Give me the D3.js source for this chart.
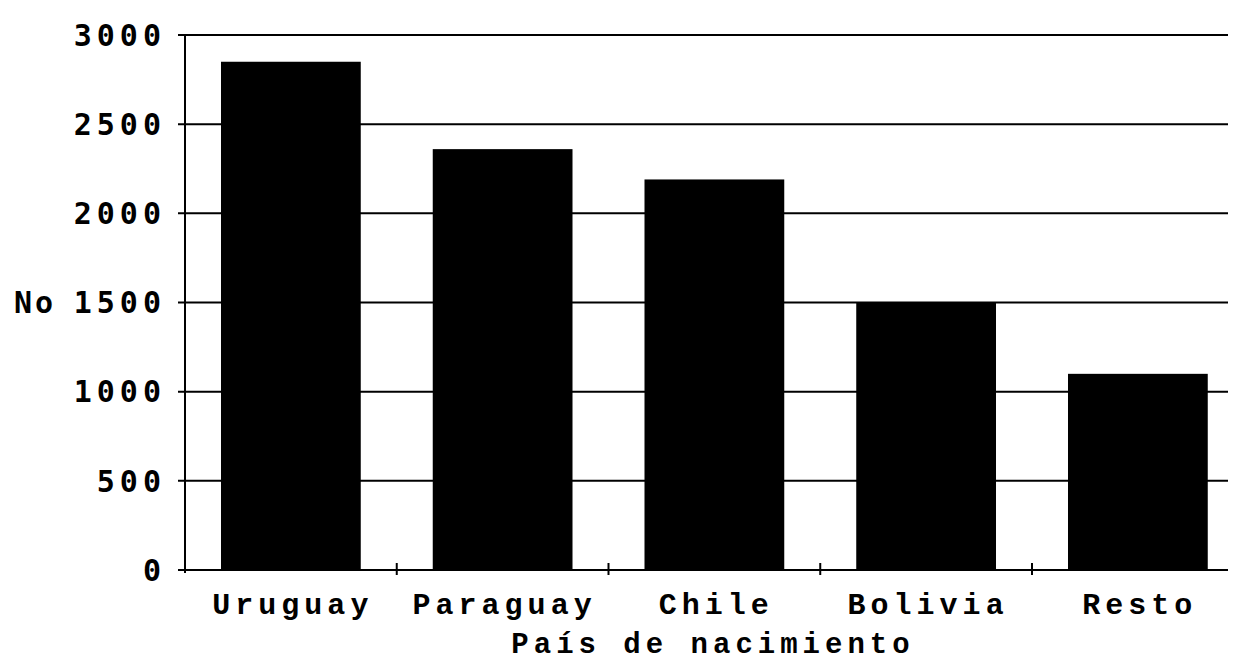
<!DOCTYPE html>
<html>
<head>
<meta charset="utf-8">
<script src="https://cdn.jsdelivr.net/npm/d3@7"></script>
<style>
  body { margin: 0; background: #fff; }
  svg { display: block; }
</style>
</head>
<body>
<svg id="chart" width="1233" height="662"></svg>
<script>
// data
var paises = ["Uruguay", "Paraguay", "Chile", "Bolivia", "Resto"];
var cantidad = [2850, 2360, 2190, 1500, 1100];
var y_ticks = [0, 500, 1000, 1500, 2000, 2500, 3000];

var svg = d3.select("#chart");

var x0 = 185, x1 = 1228;   // plot left / right
var y_top = 35, y_bot = 570;

var x = d3.scaleBand()
    .domain(paises)
    .range([x0, x0 + 5 * 211.75])
    .paddingInner(0.34)
    .paddingOuter(0.17);

var y = d3.scaleLinear()
    .domain([0, 3000])
    .range([y_bot, y_top]);

var tick_font = "'DejaVu Sans Mono', monospace";
var lab_font = "'Liberation Mono', 'Courier New', monospace";

// gridlines + y ticks
svg.append("g")
    .selectAll("line")
    .data(y_ticks)
    .enter()
    .append("line")
    .attr("x1", x0 - 7)
    .attr("x2", x1)
    .attr("y1", d => y(d))
    .attr("y2", d => y(d))
    .attr("stroke", "black")
    .attr("stroke-width", 2);

// bars
svg.append("g")
    .selectAll("rect")
    .data(paises)
    .enter()
    .append("rect")
    .attr("x", d => x(d))
    .attr("width", x.bandwidth())
    .attr("y", (d, i) => y(cantidad[i]))
    .attr("height", (d, i) => y_bot - y(cantidad[i]))
    .attr("fill", "black");

// y axis line
svg.append("line")
    .attr("x1", x0).attr("x2", x0)
    .attr("y1", y_top).attr("y2", y_bot + 3)
    .attr("stroke", "black")
    .attr("stroke-width", 2);

// x axis category boundary ticks
var step = x.step();
svg.append("g")
    .selectAll("line")
    .data(paises.slice(1))
    .enter()
    .append("line")
    .attr("x1", d => x(d) - (step - x.bandwidth()) / 2)
    .attr("x2", d => x(d) - (step - x.bandwidth()) / 2)
    .attr("y1", y_bot - 7)
    .attr("y2", y_bot + 5)
    .attr("stroke", "black")
    .attr("stroke-width", 2);

// y tick labels
svg.append("g")
    .selectAll("text")
    .data(y_ticks)
    .enter()
    .append("text")
    .attr("x", 166)
    .attr("y", d => y(d))
    .attr("dy", "0.36em")
    .attr("text-anchor", "end")
    .attr("font-family", tick_font)
    .attr("font-weight", "bold")
    .attr("font-size", 30)
    .attr("letter-spacing", 5)
    .text(d => d);

svg.append("text")
    .attr("x", 14)
    .attr("y", y(1500))
    .attr("dy", "0.36em")
    .attr("font-family", tick_font)
    .attr("font-weight", "bold")
    .attr("font-size", 30)
    .attr("letter-spacing", 3)
    .text("No");

// x labels
svg.append("g")
    .selectAll("text")
    .data(paises)
    .enter()
    .append("text")
    .attr("x", d => x(d) + x.bandwidth() / 2 + 2)
    .attr("y", 614)
    .attr("text-anchor", "middle")
    .attr("font-family", lab_font)
    .attr("font-weight", "bold")
    .attr("font-size", 30)
    .attr("letter-spacing", 5)
    .text(d => d);

svg.append("text")
    .attr("x", 713)
    .attr("y", 653)
    .attr("text-anchor", "middle")
    .attr("font-family", lab_font)
    .attr("font-weight", "bold")
    .attr("font-size", 29)
    .attr("letter-spacing", 5)
    .text("País de nacimiento");
</script>
</body>
</html>
